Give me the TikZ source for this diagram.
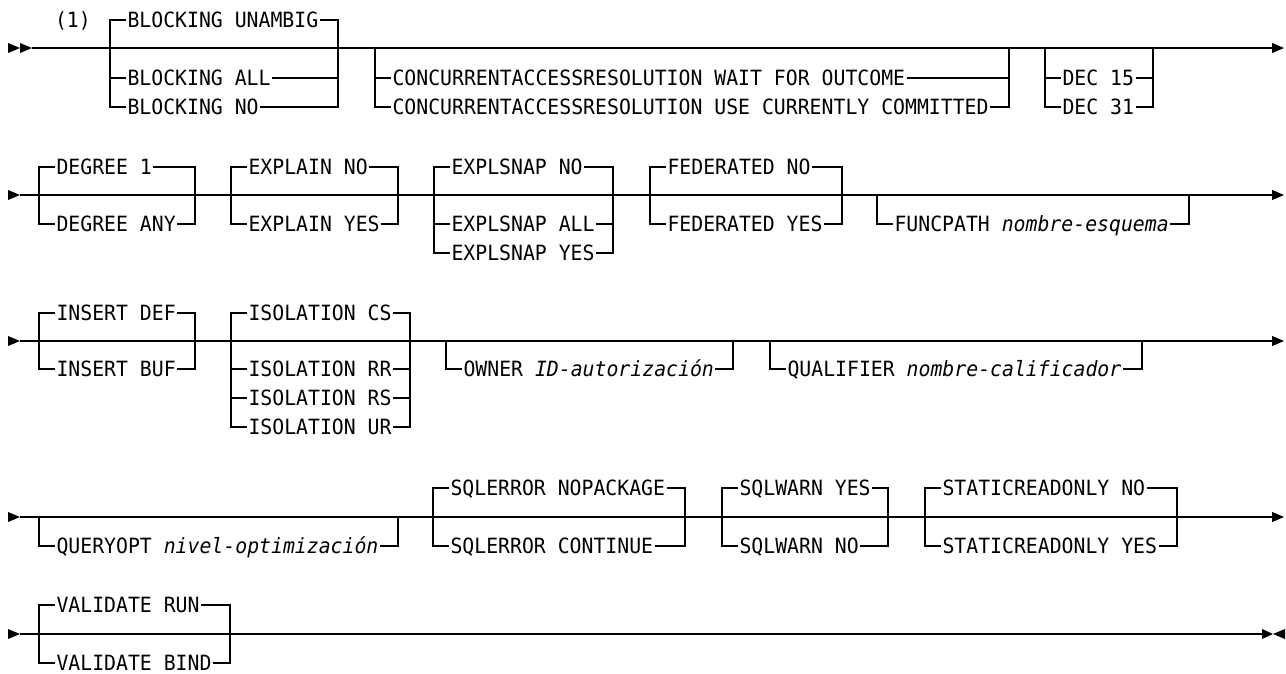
\documentclass[tikz,border=0pt]{standalone}
\usepackage{fontspec}
\setmonofont[FakeStretch=0.943]{DejaVu Sans Mono}
\usetikzlibrary{arrows.meta}
\tikzset{
  rail/.style={line width=1.2pt},
  brk/.style={line width=1.2pt, line cap=rect},
  opt/.style={anchor=base west, inner xsep=1.5pt, inner ysep=0pt, outer sep=0pt, font=\ttfamily\fontsize{21}{23}\selectfont},
  endarr/.style={line width=1.2pt, -{Triangle[length=12pt,width=10pt]}},
}
\newcommand{\ropt}[5]{%
  \node[opt] (#1) at ({#2+16},{#4+7.5}) {#5};
  \draw[rail] (#2,#4) -- (#1.west |- #2,#4);
  \draw[rail] (#1.east |- #2,#4) -- (#3,#4);
}
\newcommand{\rbrk}[4]{%
  \draw[brk] (#1,#3) -- (#1,#4);
  \draw[brk] (#2,#3) -- (#2,#4);
}
\newcommand{\startmark}[1]{%
  \fill (8,{#1-5}) -- (20,#1) -- (8,{#1+5}) -- cycle;
}
\begin{document}
\begin{tikzpicture}[x=1pt,y=-1pt]
\useasboundingbox (0,0) rectangle (1286,673);

% ---------- Row 1 ----------
\fill (8,43) -- (20,48) -- (8,53) -- cycle;
\fill (20,43) -- (32,48) -- (20,53) -- cycle;
\coordinate (r1s) at (32,48);
\coordinate (r1e) at (1284,48);
\draw[endarr] (r1s) -- (r1e);
\node[opt, inner xsep=0pt] (note) at (55,27.5) {(1)};
\ropt{bu}{110}{338}{20}{BLOCKING UNAMBIG}
\ropt{ba}{110}{338}{78}{BLOCKING ALL}
\ropt{bn}{110}{338}{107}{BLOCKING NO}
\rbrk{110}{338}{20}{107}
\ropt{cw}{375}{1009}{78}{CONCURRENTACCESSRESOLUTION WAIT FOR OUTCOME}
\ropt{cu}{375}{1009}{107}{CONCURRENTACCESSRESOLUTION USE CURRENTLY COMMITTED}
\rbrk{375}{1009}{48}{107}
\ropt{d15}{1045}{1153}{78}{DEC 15}
\ropt{d31}{1045}{1153}{107}{DEC 31}
\rbrk{1045}{1153}{48}{107}

% ---------- Row 2 ----------
\startmark{195}
\coordinate (r2s) at (20,195);
\coordinate (r2e) at (1284,195);
\draw[endarr] (r2s) -- (r2e);
\ropt{dg1}{39}{195}{167}{DEGREE 1}
\ropt{dga}{39}{195}{224}{DEGREE ANY}
\rbrk{39}{195}{167}{224}
\ropt{exn}{231}{398}{167}{EXPLAIN NO}
\ropt{exy}{231}{398}{224}{EXPLAIN YES}
\rbrk{231}{398}{167}{224}
\ropt{esn}{434}{613}{167}{EXPLSNAP NO}
\ropt{esa}{434}{613}{224}{EXPLSNAP ALL}
\ropt{esy}{434}{613}{253}{EXPLSNAP YES}
\rbrk{434}{613}{167}{253}
\ropt{fdn}{650}{842}{167}{FEDERATED NO}
\ropt{fdy}{650}{842}{224}{FEDERATED YES}
\rbrk{650}{842}{167}{224}
\ropt{fp}{877}{1189}{224}{FUNCPATH {\itshape nombre-esquema}}
\rbrk{877}{1189}{195}{224}

% ---------- Row 3 ----------
\startmark{341}
\coordinate (r3s) at (20,341);
\coordinate (r3e) at (1284,341);
\draw[endarr] (r3s) -- (r3e);
\ropt{ind}{39}{195}{313}{INSERT DEF}
\ropt{inb}{39}{195}{369}{INSERT BUF}
\rbrk{39}{195}{313}{369}
\ropt{ics}{231}{410}{313}{ISOLATION CS}
\ropt{irr}{231}{410}{369}{ISOLATION RR}
\ropt{irs}{231}{410}{398}{ISOLATION RS}
\ropt{iur}{231}{410}{427}{ISOLATION UR}
\rbrk{231}{410}{313}{427}
\ropt{own}{446}{733}{369}{OWNER {\itshape ID-autorización}}
\rbrk{446}{733}{341}{369}
\ropt{qual}{770}{1142}{369}{QUALIFIER {\itshape nombre-calificador}}
\rbrk{770}{1142}{341}{369}

% ---------- Row 4 ----------
\startmark{517}
\coordinate (r4s) at (20,517);
\coordinate (r4e) at (1284,517);
\draw[endarr] (r4s) -- (r4e);
\ropt{qo}{39}{398}{546}{QUERYOPT {\itshape nivel-optimización}}
\rbrk{39}{398}{517}{546}
\ropt{sen}{433}{685}{488}{SQLERROR NOPACKAGE}
\ropt{sec}{433}{685}{546}{SQLERROR CONTINUE}
\rbrk{433}{685}{488}{546}
\ropt{swy}{722}{888}{488}{SQLWARN YES}
\ropt{swn}{722}{888}{546}{SQLWARN NO}
\rbrk{722}{888}{488}{546}
\ropt{srn}{925}{1177}{488}{STATICREADONLY NO}
\ropt{sry}{925}{1177}{546}{STATICREADONLY YES}
\rbrk{925}{1177}{488}{546}

% ---------- Row 5 ----------
\startmark{634}
\coordinate (r5s) at (20,634);
\coordinate (r5e) at (1262,634);
\draw[rail] (r5s) -- (r5e);
\fill (1262,629) -- (1273,634) -- (1262,639) -- cycle;
\fill (1285,629) -- (1273,634) -- (1285,639) -- cycle;
\ropt{vr}{39}{230}{605}{VALIDATE RUN}
\ropt{vb}{39}{230}{663}{VALIDATE BIND}
\rbrk{39}{230}{605}{663}
\end{tikzpicture}
\end{document}
